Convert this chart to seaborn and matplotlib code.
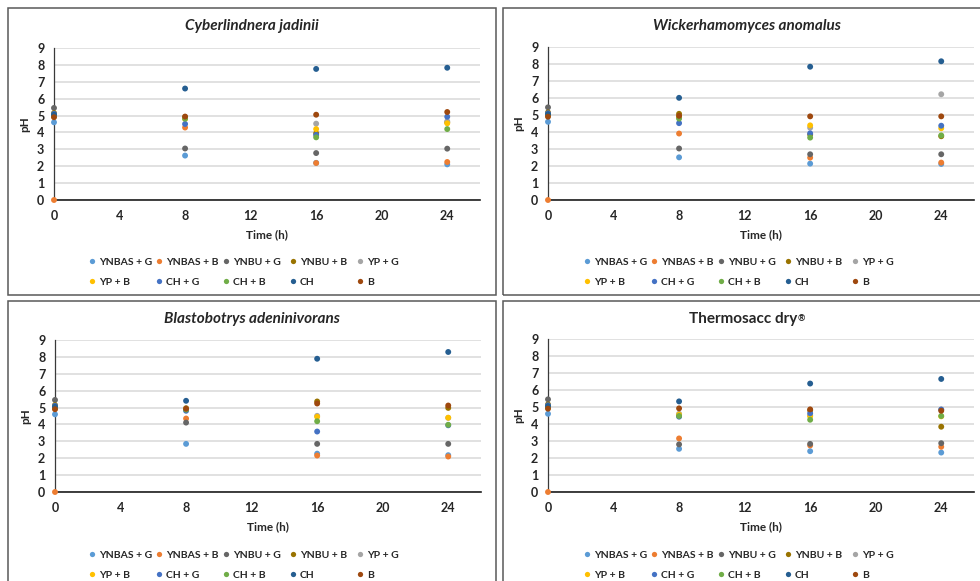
import matplotlib
matplotlib.use("Agg")
import matplotlib.pyplot as plt
from matplotlib.lines import Line2D
from matplotlib.patches import Rectangle
import pandas as pd
import seaborn as sns

# Sampling times (h) and treatment series
hours = [0, 8, 16, 24]
treatments = ["YNBAS + G", "YNBAS + B", "YNBU + G", "YNBU + B", "YP + G",
              "YP + B", "CH + G", "CH + B", "CH", "B"]
colors = ["#5B9BD5", "#ED7D31", "#666666", "#997300", "#A5A5A5",
          "#FFC000", "#4472C4", "#70AD47", "#255E91", "#9E480E"]
x_ticks = [0, 4, 8, 12, 16, 20, 24]
y_ticks = [0, 1, 2, 3, 4, 5, 6, 7, 8, 9]

# pH per treatment (rows follow `treatments`, columns follow `hours`)
ph_cyberlindnera = [
    [4.60, 2.63, 2.20, 2.11],
    [0.00, 4.29, 2.19, 2.25],
    [5.45, 3.05, 2.78, 3.04],
    [5.15, 4.90, 3.95, 4.60],
    [5.05, 4.85, 4.52, 4.66],
    [4.95, 4.80, 4.20, 4.54],
    [5.10, 4.50, 3.85, 4.93],
    [5.00, 4.82, 3.71, 4.20],
    [5.05, 6.60, 7.76, 7.83],
    [4.90, 4.94, 5.05, 5.21],
]
ph_wickerhamomyces = [
    [4.60, 2.51, 2.14, 2.12],
    [0.00, 3.91, 2.49, 2.20],
    [5.45, 3.03, 2.69, 2.69],
    [5.15, 5.07, 3.85, 3.75],
    [5.05, 4.85, 4.25, 6.22],
    [4.95, 4.90, 4.39, 4.22],
    [5.10, 4.52, 3.92, 4.37],
    [5.00, 4.79, 3.67, 3.80],
    [5.05, 6.01, 7.84, 8.16],
    [4.90, 4.95, 4.92, 4.92],
]
ph_blastobotrys = [
    [4.60, 2.85, 2.27, 2.18],
    [0.00, 4.35, 2.16, 2.10],
    [5.45, 4.11, 2.85, 2.85],
    [5.15, 4.96, 5.36, 4.98],
    [5.05, 4.90, 4.51, 4.39],
    [4.95, 4.90, 4.45, 4.40],
    [5.10, 4.81, 3.58, 3.95],
    [5.00, 4.88, 4.19, 3.98],
    [5.05, 5.40, 7.89, 8.29],
    [4.90, 4.93, 5.24, 5.12],
]
ph_thermosacc = [
    [4.60, 2.54, 2.40, 2.32],
    [0.00, 3.15, 2.74, 2.66],
    [5.45, 2.80, 2.83, 2.87],
    [5.15, 4.50, 4.80, 3.84],
    [5.05, 4.60, 4.50, 4.85],
    [4.95, 4.55, 4.45, 4.45],
    [5.10, 4.43, 4.63, 4.85],
    [5.00, 4.47, 4.25, 4.47],
    [5.05, 5.33, 6.38, 6.65],
    [4.90, 4.92, 4.86, 4.78],
]

sns.set_theme(style="white")
plt.rcParams["font.family"] = ["Lato", "DejaVu Sans"]

W, H = 980, 581
TEXT = "#262626"
fig = plt.figure(figsize=(W / 100, H / 100), dpi=100)
fig.patch.set_facecolor("white")
renderer = fig.canvas.get_renderer()


def fig_box(left, top, right, bottom):
    """Pixel box (top-left origin) -> figure fraction [x, y, w, h]."""
    return [left / W, 1 - bottom / H, (right - left) / W, (bottom - top) / H]


panels = [
    dict(title="Cyberlindnera jadinii", italic=True, mark="", data=ph_cyberlindnera,
         frame=(8, 8, 496, 295), area=(54, 48, 480, 200)),
    dict(title="Wickerhamomyces anomalus", italic=True, mark="", data=ph_wickerhamomyces,
         frame=(503, 8, 1000, 295), area=(548, 47, 974, 200)),
    dict(title="Blastobotrys adeninivorans", italic=True, mark="", data=ph_blastobotrys,
         frame=(8, 301, 496, 600), area=(55, 340, 481, 492)),
    dict(title="Thermosacc dry", italic=False, mark="\u00ae", data=ph_thermosacc,
         frame=(503, 301, 1000, 600), area=(548, 339, 974, 492)),
]

palette = dict(zip(treatments, colors))
ncol = 5
LEG_SIZE = 7.5

for p in panels:
    fl, ft, fr, fb = p["frame"]
    fig.patches.append(Rectangle((fl / W, 1 - fb / H), (fr - fl) / W, (fb - ft) / H,
                                 transform=fig.transFigure, fill=False,
                                 edgecolor="#595959", linewidth=1.1))

    rows = []
    for name, values in zip(treatments, p["data"]):
        for t, v in zip(hours, values):
            rows.append({"Time (h)": t, "pH": v, "Treatment": name})
    df = pd.DataFrame(rows)

    ax = fig.add_axes(fig_box(*p["area"]))
    sns.scatterplot(data=df, x="Time (h)", y="pH", hue="Treatment",
                    hue_order=treatments, palette=palette, s=18, linewidth=0,
                    legend=False, clip_on=False, zorder=3, ax=ax)

    ax.set_xlim(0, 26)
    ax.set_ylim(0, 9)
    ax.set_xticks(x_ticks)
    ax.set_yticks(y_ticks)
    ax.yaxis.grid(True, color="#D9D9D9", linewidth=1.1)
    ax.xaxis.grid(False)
    ax.set_axisbelow(True)
    for side in ("top", "right"):
        ax.spines[side].set_visible(False)
    ax.spines["left"].set_color("#3A3A3A")
    ax.spines["left"].set_linewidth(0.9)
    ax.spines["bottom"].set_color("#1E1E1E")
    ax.spines["bottom"].set_linewidth(1.2)
    ax.tick_params(axis="both", length=0, labelsize=9, colors=TEXT)
    ax.tick_params(axis="y", pad=7)
    ax.tick_params(axis="x", pad=7)
    for lab in ax.get_xticklabels() + ax.get_yticklabels():
        lab.set_fontweight("bold")

    ax.set_xlabel("Time (h)", fontsize=8.5, fontweight="bold", color=TEXT,
                  labelpad=5.5)
    ax.set_ylabel("pH", fontsize=8.5, fontweight="bold", color=TEXT,
                  labelpad=5)

    # Panel title, with an optional raised registered-trademark sign
    cx = (fl + min(fr, 991)) / 2
    title = fig.text(cx / W, 1 - (ft + 18) / H, p["title"], ha="center",
                     va="center", fontsize=11, fontweight="bold",
                     fontstyle="italic" if p["italic"] else "normal", color=TEXT)
    if p["mark"]:
        bb = title.get_window_extent(renderer)
        shift = 4
        title.set_x((cx - shift) / W)
        fig.text((bb.x1 - shift + 0.5) / W, (bb.y1 - 2) / H, p["mark"],
                 ha="left", va="top", fontsize=6.5, fontweight="bold", color=TEXT)

    # Legend: five evenly spaced columns, two rows
    handle_px = 0.5 * LEG_SIZE * 100 / 72
    for c in range(ncol):
        idx = [c, c + ncol]
        handles = [Line2D([], [], ls="", marker="o", markersize=3.8,
                          markeredgewidth=0, color=colors[i]) for i in idx]
        leg = ax.legend(handles, [treatments[i] for i in idx], frameon=False,
                        loc="center left",
                        bbox_to_anchor=((fl + 84 + 67 * c - handle_px / 2) / W,
                                        1 - (ft + 264) / H),
                        bbox_transform=fig.transFigure,
                        prop={"weight": "bold", "size": LEG_SIZE},
                        handlelength=0.5, handletextpad=0.4,
                        labelspacing=1.05, borderpad=0, borderaxespad=0)
        for txt in leg.get_texts():
            txt.set_color(TEXT)
        if c < ncol - 1:
            ax.add_artist(leg)

fig.savefig("out.png", dpi=100, facecolor="white")
